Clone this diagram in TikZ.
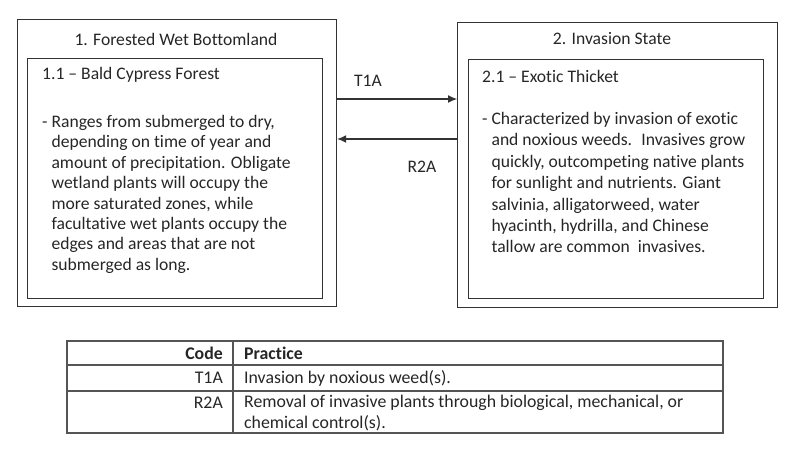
\documentclass[tikz,border=0pt]{standalone}
\usepackage{fontspec}
\setmainfont{Carlito}[Ligatures=NoCommon]
\usetikzlibrary{arrows.meta}
\definecolor{ink}{HTML}{262626}
\definecolor{edge}{HTML}{333333}
\definecolor{tline}{HTML}{555555}
\tikzset{
  statebox/.style={draw=edge, line width=1.2pt, minimum width=#1, anchor=north west, inner sep=0pt},
  txt/.style={text=ink, font=\fontsize{17.6}{21}\selectfont, inner sep=0pt},
  body/.style={txt, align=left, anchor=north west},
  trans/.style={draw=edge, line width=1.1pt, -{Latex[length=9pt,width=8pt]}},
  tcell/.style={text=ink, font=\fontsize{17.8}{20}\selectfont, inner sep=0pt},
}
\begin{document}
\begin{tikzpicture}[x=1pt,y=-1pt]
\useasboundingbox (0,0) rectangle (800,448);
% left state
\node[statebox=319pt, minimum height=287pt] (s1) at (17,19) {};
\node[statebox=295pt, minimum height=240pt] (c1) at (27,58) {};
\node[txt] (t1) at (176,39) {1. Forested Wet Bottomland};
\node[txt, anchor=west] (h1) at (42,75) {1.1 -- Bald Cypress Forest};
\node[body, font=\fontsize{17.6}{20.4}\selectfont] (b1) at (42,115) {- Ranges from submerged to dry,\\
\hphantom{- }depending on time of year and\\
\hphantom{- }amount of precipitation. Obligate\\
\hphantom{- }wetland plants will occupy the\\
\hphantom{- }more saturated zones, while\\
\hphantom{- }facultative wet plants occupy the\\
\hphantom{- }edges and areas that are not\\
\hphantom{- }submerged as long.};
% right state
\node[statebox=320pt, minimum height=285pt] (s2) at (457,22) {};
\node[statebox=295pt, minimum height=239pt] (c2) at (468,59) {};
\node[txt] (t2) at (612,39) {2. Invasion State};
\node[txt, anchor=west] (h2) at (482,76) {2.1 -- Exotic Thicket};
\node[body, font=\fontsize{17.6}{21.4}\selectfont] (b2) at (482,112) {- Characterized by invasion of exotic\\
\hphantom{- }and noxious weeds.~ Invasives grow\\
\hphantom{- }quickly, outcompeting native plants\\
\hphantom{- }for sunlight and nutrients. Giant\\
\hphantom{- }salvinia, alligatorweed, water\\
\hphantom{- }hyacinth, hydrilla, and Chinese\\
\hphantom{- }tallow are common~ invasives.};
% transitions
\coordinate (ya) at (0,99);
\coordinate (yb) at (0,139);
\draw[trans] (s1.east |- ya) -- (s2.west |- ya);
\draw[trans] (s2.west |- yb) -- (s1.east |- yb);
\node[txt] (lt) at (368,81) {T1A};
\node[txt] (lr) at (422,167) {R2A};
% table
\draw[tline, line width=1.3pt] (67,341) rectangle (723,433);
\draw[tline, line width=1.3pt] (67,365) -- (723,365);
\draw[tline, line width=1.3pt] (67,391) -- (723,391);
\draw[tline, line width=1.3pt] (233,341) -- (233,433);
\node[tcell, anchor=east, font=\fontsize{17.8}{20}\selectfont\bfseries] (k0) at (223,353) {Code};
\node[tcell, anchor=west, font=\fontsize{17.8}{20}\selectfont\bfseries] (p0) at (244,353) {Practice};
\node[tcell, anchor=east] (k1) at (223,378) {T1A};
\node[tcell, anchor=west] (p1) at (244,378) {Invasion by noxious weed(s).};
\node[tcell, anchor=east] (k2) at (223,403) {R2A};
\node[tcell, anchor=west] (p2) at (244,403) {Removal of invasive plants through biological, mechanical, or};
\node[tcell, anchor=west] (p3) at (244,423) {chemical control(s).};
\end{tikzpicture}
\end{document}
